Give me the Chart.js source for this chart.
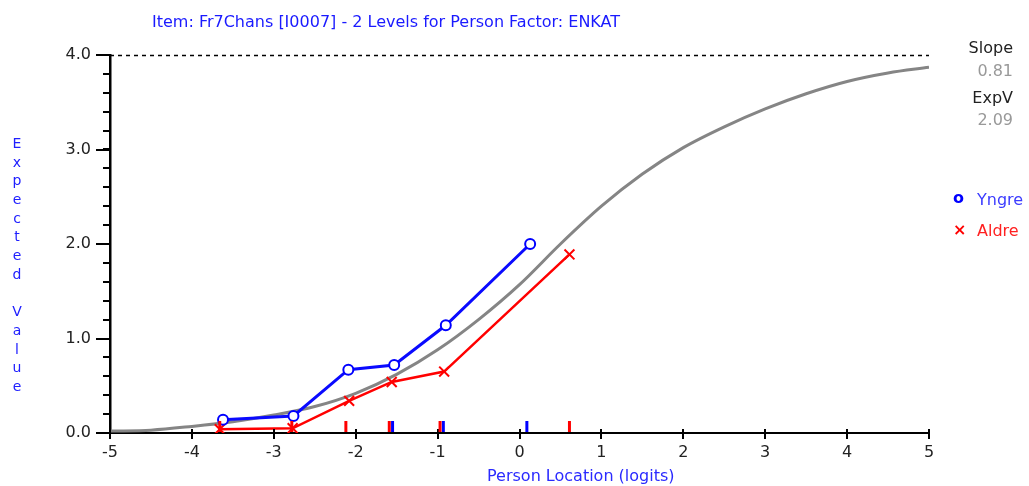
<!DOCTYPE html>
<html>
<head>
<meta charset="utf-8">
<script src="https://cdn.jsdelivr.net/npm/chart.js"></script>
<style>
	body { margin: 0; background: #fff; }
	.wrap { position: relative; width: 1029px; height: 486px; overflow: hidden; font-family: 'DejaVu Sans', sans-serif; }
	canvas { position: absolute; left: 0; top: 0; }
	.txt { position: absolute; white-space: nowrap; line-height: 20px; }
	.title { left: 152px; top: 12px; font-size: 16px; color: #1a1aff; }
	.xtitle { left: 487px; top: 466px; font-size: 16px; color: #2a2aff; }
	.ytitle { position: absolute; left: 7px; top: 134px; width: 20px; font-size: 14px; color: #2020ff; text-align: center; }
	.ytitle span { display: block; height: 18.7px; line-height: 18.7px; }
	.side { right: 16px; text-align: right; font-size: 16px; }
	.lab { color: #222; }
	.num { color: #999; }
	.leg-sym { left: 953px; font-size: 16px; font-weight: bold; }
	.leg-txt { left: 977px; font-size: 16px; }
</style>
</head>
<body>
<div class="wrap">
	<canvas id="chart" width="1029" height="486"></canvas>
	<div class="txt title">Item: Fr7Chans [I0007] - 2 Levels for Person Factor: ENKAT</div>
	<div class="txt xtitle">Person Location (logits)</div>
	<div class="ytitle" id="ytitle"></div>
	<div class="txt side lab" style="top:38px;">Slope</div>
	<div class="txt side num" style="top:61px;">0.81</div>
	<div class="txt side lab" style="top:88px;">ExpV</div>
	<div class="txt side num" style="top:110px;">2.09</div>
	<div class="txt leg-sym" style="top:188px; color:#0000ff;">o</div>
	<div class="txt leg-txt" style="top:190px; color:#3c3cff;">Yngre</div>
	<div class="txt leg-sym" style="top:220px; color:#ff0000;">×</div>
	<div class="txt leg-txt" style="top:221px; color:#ff2020;">Aldre</div>
</div>
<script>
// expected value curve (grey)
const curveX = [-5, -4.5, -4, -3.5, -3, -2.5, -2, -1.5, -1, -0.5, 0, 0.5, 1, 1.5, 2, 2.5, 3, 3.5, 4, 4.5, 5];
const curveY = [0.02, 0.03, 0.07, 0.12, 0.19, 0.28, 0.42, 0.62, 0.88, 1.20, 1.57, 2.00, 2.40, 2.74, 3.02, 3.24, 3.43, 3.59, 3.72, 3.81, 3.87];

// observed class interval means
const yngreX = [-3.62, -2.76, -2.09, -1.53, -0.90, 0.13];
const yngreY = [0.14, 0.18, 0.67, 0.72, 1.14, 2.00];
const aldreX = [-3.66, -2.77, -2.08, -1.56, -0.92, 0.61];
const aldreY = [0.04, 0.05, 0.34, 0.54, 0.65, 1.89];

// little marks sitting on the x axis
const yngreMarks = [-1.55, -0.93, 0.09];
const aldreMarks = [-3.66, -2.78, -2.12, -1.59, -0.97, 0.61];

const xTicks = [-5, -4, -3, -2, -1, 0, 1, 2, 3, 4, 5];
const yTicks = [0, 1, 2, 3, 4];
const yMinorStep = 0.2;

const yTitle = 'Expected Value';
const yt = document.getElementById('ytitle');
yTitle.split('').forEach(ch => {
	const s = document.createElement('span');
	s.textContent = ch === ' ' ? '\u00a0' : ch;
	yt.appendChild(s);
});

const pts = (xs, ys) => xs.map((x, i) => ({ x: x, y: ys[i] }));
const tickFont = { family: "'DejaVu Sans', sans-serif", size: 16 };

const extras = {
	id: 'extras',
	afterDraw(chart) {
		const ctx = chart.ctx;
		const xs = chart.scales.x, ys = chart.scales.y;
		const area = chart.chartArea;
		ctx.save();
		// dashed line at the top value
		ctx.strokeStyle = '#000';
		ctx.lineWidth = 1.5;
		ctx.setLineDash([4, 4]);
		ctx.beginPath();
		const yTop = Math.round(ys.getPixelForValue(ys.max)) + 0.5;
		ctx.moveTo(area.left, yTop);
		ctx.lineTo(area.right, yTop);
		ctx.stroke();
		ctx.setLineDash([]);
		// minor ticks on y
		ctx.lineWidth = 2;
		for (let v = ys.min; v <= ys.max + 1e-9; v += yMinorStep) {
			const p = Math.round(ys.getPixelForValue(v));
			ctx.beginPath();
			ctx.moveTo(area.left - 7, p);
			ctx.lineTo(area.left, p);
			ctx.stroke();
		}
		// x ticks poke a bit above the axis
		xTicks.forEach(v => {
			const p = Math.round(xs.getPixelForValue(v));
			ctx.beginPath();
			ctx.moveTo(p, area.bottom - 4);
			ctx.lineTo(p, area.bottom);
			ctx.stroke();
		});
		// group marks
		ctx.lineWidth = 3;
		const marks = (arr, col) => {
			ctx.strokeStyle = col;
			arr.forEach(v => {
				const p = xs.getPixelForValue(v);
				ctx.beginPath();
				ctx.moveTo(p, area.bottom - 12);
				ctx.lineTo(p, area.bottom - 1);
				ctx.stroke();
			});
		};
		marks(yngreMarks, '#0000ff');
		marks(aldreMarks, '#ff0000');
		ctx.restore();
	}
};

new Chart(document.getElementById('chart'), {
	type: 'line',
	data: {
		datasets: [
			{
				label: 'Yngre',
				data: pts(yngreX, yngreY),
				borderColor: '#0a0aff',
				borderWidth: 3,
				pointStyle: 'circle',
				pointRadius: 5,
				pointBorderWidth: 2,
				pointBorderColor: '#0000ff',
				pointBackgroundColor: '#fff',
				tension: 0
			},
			{
				label: 'Aldre',
				data: pts(aldreX, aldreY),
				borderColor: '#ff0000',
				borderWidth: 2.5,
				pointStyle: 'crossRot',
				pointRadius: 7,
				pointBorderWidth: 2,
				pointBorderColor: '#ff0000',
				tension: 0
			},
			{
				label: 'Expected',
				data: pts(curveX, curveY),
				borderColor: '#858585',
				borderWidth: 3,
				pointRadius: 0,
				cubicInterpolationMode: 'monotone'
			}
		]
	},
	options: {
		responsive: false,
		animation: false,
		layout: { padding: { left: 50, right: 100, top: 55, bottom: 23 } },
		plugins: { legend: { display: false }, tooltip: { enabled: false }, title: { display: false } },
		scales: {
			x: {
				type: 'linear',
				min: -5,
				max: 5,
				afterFit: s => { s.height = 30; },
				afterBuildTicks: s => { s.ticks = xTicks.map(v => ({ value: v })); },
				grid: { drawOnChartArea: false, drawTicks: true, tickLength: 6, color: '#000', lineWidth: 2 },
				border: { display: true, color: '#000', width: 2 },
				ticks: { color: '#222', padding: 4, font: tickFont, callback: v => String(v) }
			},
			y: {
				min: 0,
				max: 4,
				afterFit: s => { s.width = 60; },
				afterBuildTicks: s => { s.ticks = yTicks.map(v => ({ value: v })); },
				grid: { drawOnChartArea: false, drawTicks: true, tickLength: 14, color: '#000', lineWidth: 2 },
				border: { display: true, color: '#000', width: 2.5 },
				ticks: { color: '#222', padding: 5, font: tickFont, callback: v => v.toFixed(1) }
			}
		}
	},
	plugins: [extras]
});
</script>
</body>
</html>
